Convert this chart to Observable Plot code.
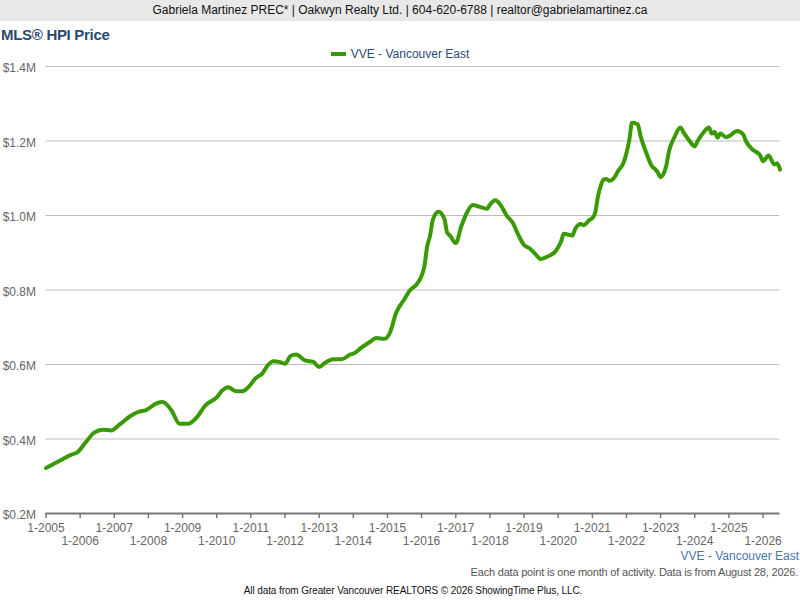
<!DOCTYPE html>
<html><head><meta charset="utf-8">
<script src="https://cdn.jsdelivr.net/npm/d3@7"></script>
<script src="https://cdn.jsdelivr.net/npm/@observablehq/plot@0.6"></script>
<style>
body{margin:0;background:#fff;font-family:"Liberation Sans",Arial,sans-serif;}
#wrap{position:relative;width:800px;height:600px;overflow:hidden}
#hdr{position:absolute;left:0;top:0;width:800px;height:21px;background:#e8e8e8;text-align:center;font-size:12px;line-height:21px;color:#111}
#title{position:absolute;left:1px;top:26px;font-size:15px;font-weight:bold;color:#2a4a72;line-height:18px;letter-spacing:-0.3px}
#legend{position:absolute;left:0;top:47px;width:800px;text-align:center;font-size:12px;line-height:14px;color:#2a4a72}
.sw{display:inline-block;width:15px;height:4px;background:#3a9a06;vertical-align:middle;margin-right:5px;position:relative;top:-1px}
#chart{position:absolute;left:0;top:58px}
#cap1{position:absolute;right:1px;top:550px;font-size:12px;line-height:12px;color:#4a76ab}
#cap2{position:absolute;right:2px;top:566px;font-size:11px;line-height:13px;color:#555;letter-spacing:-0.2px}
#cap3{position:absolute;left:0;width:826px;text-align:center;top:585px;font-size:10px;line-height:12px;color:#111;letter-spacing:-0.1px}
</style></head>
<body>
<div id="wrap">
<div id="hdr">Gabriela Martinez PREC* | Oakwyn Realty Ltd. | 604-620-6788 | realtor@gabrielamartinez.ca</div>
<div id="title">MLS® HPI Price</div>
<div id="legend"><span class="sw"></span>VVE - Vancouver East</div>
<div id="chart"></div>
<div id="cap1">VVE - Vancouver East</div>
<div id="cap2">Each data point is one month of activity. Data is from August 28, 2026.</div>
<div id="cap3">All data from Greater Vancouver REALTORS © 2026 ShowingTime Plus, LLC.</div>
</div>
<script>
const seriesName = "VVE - Vancouver East";
const months = [
"2005-01","2005-06","2005-10","2005-12","2006-03","2006-06","2006-09","2006-12",
"2007-03","2007-07","2007-10","2007-12","2008-04","2008-06","2008-09","2008-12",
"2009-03","2009-06","2009-09","2010-01","2010-03","2010-05","2010-08","2010-10","2010-12",
"2011-03","2011-05","2011-07","2011-09","2011-11","2012-01","2012-03","2012-05","2012-08","2012-11",
"2013-01","2013-03","2013-06","2013-09","2013-12","2014-01","2014-04","2014-07","2014-09","2014-12",
"2015-02","2015-04","2015-07","2015-09","2015-11","2016-01","2016-02","2016-03","2016-04","2016-05",
"2016-07","2016-09","2016-10","2016-11","2017-01","2017-03","2017-05","2017-07","2017-09","2017-12",
"2018-01","2018-03","2018-05","2018-07","2018-09","2018-11","2019-01","2019-03","2019-05","2019-07",
"2019-09","2019-12","2020-02","2020-03","2020-06","2020-07","2020-09","2020-10","2020-12",
"2021-01","2021-02","2021-03","2021-04","2021-05","2021-06","2021-07","2021-09","2021-10","2021-12",
"2022-01","2022-02","2022-03","2022-05","2022-06","2022-08","2022-10","2022-11","2022-12",
"2023-01","2023-03","2023-04","2023-06","2023-08","2023-09","2023-11",
"2024-01","2024-02","2024-04","2024-06","2024-07","2024-08","2024-09","2024-10","2024-12",
"2025-01","2025-04","2025-06","2025-07","2025-09","2025-12",
"2026-01","2026-03","2026-05","2026-06","2026-07"
];
const priceM = [
0.322,0.342,0.358,0.364,0.391,0.417,0.425,0.423,
0.439,0.463,0.474,0.477,0.496,0.499,0.478,0.441,
0.441,0.458,0.490,0.512,0.530,0.539,0.528,0.528,0.538,
0.565,0.575,0.598,0.609,0.607,0.602,0.623,0.627,0.611,0.607,
0.593,0.604,0.614,0.614,0.627,0.629,0.646,0.661,0.671,0.669,
0.688,0.737,0.775,0.800,0.813,0.838,0.865,0.917,0.946,0.989,
1.010,0.991,0.954,0.946,0.926,0.971,1.008,1.028,1.024,1.018,
1.029,1.041,1.026,0.999,0.981,0.948,0.921,0.912,0.897,0.883,
0.889,0.903,0.930,0.951,0.946,0.964,0.977,0.974,0.988,
0.993,1.008,1.050,1.080,1.097,1.098,1.093,1.105,1.119,1.142,
1.168,1.204,1.249,1.245,1.213,1.168,1.132,1.125,1.116,
1.103,1.132,1.173,1.212,1.236,1.224,1.202,
1.186,1.200,1.222,1.236,1.220,1.224,1.209,1.220,1.210,
1.213,1.227,1.218,1.200,1.179,1.161,
1.146,1.161,1.137,1.140,1.123
];
const yTicks = [0.2,0.4,0.6,0.8,1.0,1.2,1.4];
const tickYears = d3.range(2005, 2027);

const data = months.map((m,i) => ({date: new Date(m + "-01T00:00:00Z"), value: priceM[i], series: seriesName}));
const yearDate = y => new Date(Date.UTC(y,0,1));
const rowA = tickYears.filter(y => (y - 2005) % 2 === 0).map(yearDate);
const rowB = tickYears.filter(y => (y - 2005) % 2 === 1).map(yearDate);
const fmtX = d => `1-${d.getUTCFullYear()}`;

const chart = Plot.plot({
  width: 800,
  height: 490,
  marginTop: 8,
  marginBottom: 35,
  marginLeft: 45.5,
  marginRight: 20.5,
  style: {fontFamily: "Liberation Sans, Arial, sans-serif", fontSize: "12px", background: "#fff", overflow: "visible"},
  x: {type: "utc", domain: [data[0].date, data[data.length-1].date]},
  y: {domain: [0.2, 1.4]},
  marks: [
    Plot.gridY(yTicks, {stroke: "#bdbdbd", strokeOpacity: 1, strokeWidth: 1}),
    Plot.axisY(yTicks, {tickSize: 0, tickPadding: 10, dy: 2, fill: "#666", tickFormat: d => `$${d.toFixed(1)}M`, label: null}),
    Plot.ruleY([0.2], {stroke: "#777", strokeWidth: 2}),
    Plot.axisX(rowA, {tickSize: 5, tickPadding: 5, stroke: "#777", strokeWidth: 1.5, fill: "#666", tickFormat: fmtX, label: null}),
    Plot.axisX(rowB, {tickSize: 5, tickPadding: 18, stroke: "#777", strokeWidth: 1.5, fill: "#666", tickFormat: fmtX, label: null}),
    Plot.lineY(data, {x: "date", y: "value", stroke: "#3a9a06", strokeWidth: 4, curve: "monotone-x", strokeLinejoin: "round", strokeLinecap: "round"})
  ]
});
document.getElementById("chart").appendChild(chart);
</script>
</body></html>
